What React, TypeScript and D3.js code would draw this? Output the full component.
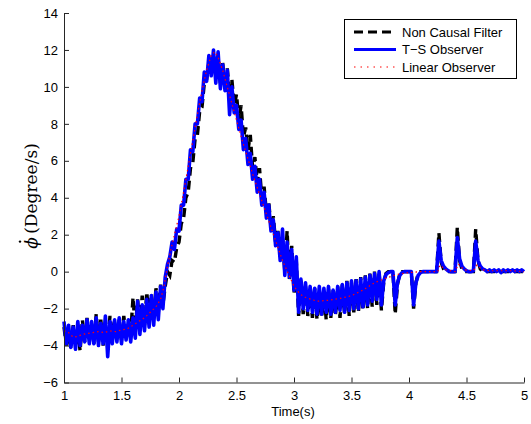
import React, { useRef, useEffect } from 'react';
import * as d3 from 'd3';

// sampled every 0.02 s from t = 1 to t = 5
const sampleStart = 1;
const sampleStep = 0.02;

const nonCausalFilter = [
  -3.0, -4.0, -3.2, -4.2, -2.9, -4.0, -3.1, -4.3, -2.6, -3.8,
  -2.5, -3.7, -2.8, -3.9, -2.3, -3.8, -2.6, -4.0, -2.9, -3.8,
  -2.4, -3.7, -2.7, -3.6, -2.6, -3.7, -2.4, -3.5, -2.6, -3.4,
  -1.4, -3.1, -1.5, -3.0, -1.3, -2.9, -1.1, -2.7, -1.2, -2.4,
  -0.9, -2.2, -0.7, -1.8, -0.8, 0.0, -0.2, 0.6, 0.5, 1.3,
  1.6, 2.6, 2.9, 4.0, 4.3, 5.6, 5.9, 7.2, 7.4, 8.7,
  8.9, 10.2, 10.4, 11.3, 11.0, 11.8, 10.6, 11.6, 10.2, 11.3,
  10.0, 11.0, 9.6, 10.4, 9.0, 9.6, 8.2, 9.0, 7.3, 7.8,
  6.6, 7.4, 5.6, 6.2, 4.8, 5.6, 4.0, 4.6, 3.2, 3.8,
  2.4, 3.0, 1.6, 2.2, 0.8, 1.8, 0.0, 2.2, -0.4, 1.4,
  -1.2, 0.6, -2.4, -0.4, -2.3, -0.8, -2.4, -1.0, -2.5, -0.9,
  -2.6, -1.0, -2.5, -1.1, -2.6, -0.9, -2.5, -1.0, -2.4, -0.8,
  -2.5, -0.7, -2.3, -0.5, -2.4, -0.6, -2.2, -0.4, -2.2, -0.3,
  -2.1, -0.2, -2.0, -0.1, -1.9, 0.0, -1.8, 0.0, -2.1, -0.6,
  -0.1, 0.0, 0.0, 0.0, -2.3, -0.7, -0.1, 0.0, 0.0, 0.0,
  0.0, 0.0, -2.0, -0.6, -0.1, 0.0, 0.0, 0.0, 0.0, 0.0,
  0.0, 0.0, 0.0, 2.1, 0.5, 0.15, 0.0, 0.0, 0.0, 0.0,
  0.0, 2.4, 0.6, 0.15, 0.0, 0.0, 0.0, 0.0, 0.0, 2.3,
  0.6, 0.15, 0.0, 0.0, 0.0, 0.0, 0.0, 0.0, 0.0, 0.0,
  0.0, 0.0, 0.0, 0.0, 0.0, 0.0, 0.0, 0.0, 0.0, 0.0,
  0.0,
];

const tsObserver = [
  -2.7, -3.9, -2.9, -4.1, -3.0, -4.2, -2.7, -4.0, -2.9, -3.8,
  -2.6, -3.9, -2.7, -3.9, -2.5, -4.0, -2.8, -3.9, -2.4, -4.6,
  -2.7, -3.9, -2.6, -3.8, -2.5, -3.9, -2.7, -3.7, -2.6, -3.8,
  -2.5, -3.6, -1.6, -3.4, -1.8, -3.2, -1.5, -3.0, -1.3, -2.9,
  -1.1, -2.6, -0.8, -2.0, -0.3, 0.4, 0.8, 1.6, 1.2, 2.3,
  2.2, 3.6, 3.6, 5.0, 5.0, 6.6, 6.5, 8.0, 8.0, 9.4,
  9.2, 10.8, 10.3, 11.7, 10.6, 12.0, 10.2, 11.9, 9.9, 11.2,
  9.8, 10.9, 8.5, 10.0, 8.6, 9.0, 7.7, 8.2, 6.6, 7.2,
  5.8, 6.4, 5.0, 5.7, 4.3, 5.0, 3.6, 4.3, 2.9, 3.6,
  2.2, 2.8, 1.4, 2.1, 0.6, 2.3, -0.2, 1.6, -0.3, 1.2,
  -1.0, 0.8, -2.2, -0.4, -2.0, -0.6, -2.1, -0.8, -2.2, -0.9,
  -2.3, -0.8, -2.3, -0.9, -2.2, -0.8, -2.3, -1.0, -2.2, -0.8,
  -2.1, -0.7, -2.2, -0.6, -2.1, -0.5, -2.0, -0.5, -2.0, -0.4,
  -1.9, -0.3, -1.8, -0.2, -1.6, -0.1, -1.5, 0.0, -1.8, -0.5,
  -0.15, -0.05, 0.0, 0.0, -1.8, -0.6, -0.2, -0.05, 0.0, 0.0,
  0.0, 0.0, -1.8, -0.6, -0.2, -0.05, 0.0, 0.0, 0.0, 0.0,
  0.0, 0.0, 0.0, 1.65, 0.6, 0.3, 0.15, 0.05, 0.0, 0.0,
  0.0, 1.85, 0.7, 0.3, 0.15, 0.05, 0.0, 0.0, 0.05, 1.65,
  0.6, 0.3, 0.15, 0.1, 0.0, 0.1, 0.0, 0.1, 0.0, 0.1,
  -0.05, 0.1, 0.0, 0.1, 0.0, 0.1, 0.0, 0.1, 0.0, 0.1,
  0.0,
];

// [time, value]
const linearObserver = [
  [1.0, -3.2], [1.04, -3.3], [1.08, -3.55], [1.12, -3.5], [1.16, -3.4], [1.2, -3.35],
  [1.25, -3.3], [1.3, -3.25], [1.35, -3.3], [1.4, -3.2], [1.45, -3.25], [1.5, -3.15],
  [1.55, -3.1], [1.6, -2.9], [1.65, -2.7], [1.7, -2.5], [1.75, -2.2], [1.8, -1.9],
  [1.84, -1.5], [1.87, -0.8], [1.9, 0.3], [1.93, 1.2], [1.96, 2.0], [2.0, 3.0],
  [2.04, 4.3], [2.08, 5.7], [2.12, 7.1], [2.16, 8.5], [2.2, 9.8], [2.24, 10.9],
  [2.28, 11.7], [2.31, 11.9], [2.34, 11.6], [2.38, 10.9], [2.42, 10.0], [2.46, 9.1],
  [2.5, 8.2], [2.55, 7.1], [2.6, 6.1], [2.65, 5.1], [2.7, 4.2], [2.75, 3.3],
  [2.8, 2.4], [2.85, 1.5], [2.9, 0.6], [2.95, -0.1], [3.0, -0.8], [3.05, -1.2],
  [3.1, -1.4], [3.2, -1.6], [3.3, -1.55], [3.4, -1.45], [3.5, -1.3], [3.6, -1.0],
  [3.7, -0.6], [3.8, -0.35], [3.9, -0.15], [4.0, -0.05], [4.1, 0.0], [4.2, 0.0],
  [4.25, 0.0], [4.27, 0.35], [4.32, 0.1], [4.4, 0.0], [4.43, 0.4], [4.48, 0.1],
  [4.56, 0.05], [4.59, 0.35], [4.64, 0.1], [4.7, 0.05], [4.8, 0.05], [4.9, 0.05],
  [5.0, 0.0],
];

const xTicks = [1, 1.5, 2, 2.5, 3, 3.5, 4, 4.5, 5];
const yTicks = [-6, -4, -2, 0, 2, 4, 6, 8, 10, 12, 14];
const legendLabels = ['Non Causal Filter', 'T\u2212S Observer', 'Linear Observer'];

function App() {
  const ref = useRef(null);

  useEffect(() => {
    const width = 531;
    const height = 424;
    const sans = "'Liberation Sans', Arial, Helvetica, sans-serif";

    const root = d3.select(ref.current);
    root.selectAll('*').remove();

    const svg = root
      .append('svg')
      .attr('width', width)
      .attr('height', height)
      .style('position', 'absolute')
      .style('left', 0)
      .style('top', 0)
      .style('background', '#fff');

    const x = d3.scaleLinear().domain([1, 5]).range([64, 524]);
    const y = d3.scaleLinear().domain([-6, 14]).range([382.5, 13]);

    const toPoints = (vals) => vals.map((v, i) => [sampleStart + i * sampleStep, v]);

    const line = d3
      .line()
      .x((d) => x(d[0]))
      .y((d) => y(d[1]));

    // non causal filter (black dashed)
    svg
      .append('path')
      .attr('d', line(toPoints(nonCausalFilter)))
      .attr('fill', 'none')
      .attr('stroke', '#000')
      .attr('stroke-width', 3.4)
      .attr('stroke-dasharray', '9,5');

    // T-S observer (blue)
    svg
      .append('path')
      .attr('d', line(toPoints(tsObserver)))
      .attr('fill', 'none')
      .attr('stroke', '#0000ff')
      .attr('stroke-width', 3.6)
      .attr('stroke-linejoin', 'round');

    // linear observer (red dotted)
    svg
      .append('path')
      .attr('d', line(linearObserver))
      .attr('fill', 'none')
      .attr('stroke', '#ff0000')
      .attr('stroke-width', 1.2)
      .attr('stroke-dasharray', '1.5,3');

    // axes, ticks inward like matlab
    const gx = svg
      .append('g')
      .attr('transform', 'translate(0,' + y(-6) + ')')
      .call(
        d3.axisBottom(x)
          .tickValues(xTicks)
          .tickFormat(d3.format(''))
          .tickSizeInner(-5)
          .tickSizeOuter(0)
          .tickPadding(8)
      );

    const gy = svg
      .append('g')
      .attr('transform', 'translate(' + x(1) + ',0)')
      .call(
        d3.axisLeft(y)
          .tickValues(yTicks)
          .tickFormat(d3.format(''))
          .tickSizeInner(-5)
          .tickSizeOuter(0)
          .tickPadding(6)
      );

    [gx, gy].forEach((g) => {
      g.attr('font-family', sans).attr('font-size', 13);
      g.selectAll('path, line').attr('stroke', '#262626');
      g.selectAll('text').attr('fill', '#000');
    });

    svg
      .append('text')
      .attr('x', 293)
      .attr('y', 416)
      .attr('text-anchor', 'middle')
      .attr('font-family', sans)
      .attr('font-size', 13)
      .text('Time(s)');

    // y label: dotted phi, rotated
    const ylabG = svg.append('g').attr('transform', 'translate(37,196) rotate(-90)');
    const ylab = ylabG
      .append('text')
      .attr('text-anchor', 'middle')
      .attr('font-family', "'DejaVu Serif', 'Liberation Serif', serif")
      .attr('font-size', 17);
    ylab.append('tspan').attr('font-style', 'italic').text('\u03D5');
    ylab.append('tspan').text('\u2009(Degree/s)');
    const phiBox = ylab.node().getExtentOfChar(0);
    ylabG
      .append('circle')
      .attr('cx', phiBox.x + phiBox.width * 0.62)
      .attr('cy', -17)
      .attr('r', 1.2)
      .attr('fill', '#000');

    // legend
    const legend = svg.append('g');
    legend
      .append('rect')
      .attr('x', 344.5)
      .attr('y', 19.5)
      .attr('width', 172)
      .attr('height', 59)
      .attr('fill', '#fff')
      .attr('stroke', '#000');

    const legendStyles = [
      { stroke: '#000', width: 3, dash: '9,5' },
      { stroke: '#0000ff', width: 2.8, dash: null },
      { stroke: '#ff0000', width: 1.2, dash: '1.5,5' },
    ];
    const rowY = [32, 49.5, 67];

    legendLabels.forEach((label, i) => {
      legend
        .append('line')
        .attr('x1', 354)
        .attr('x2', 396)
        .attr('y1', rowY[i])
        .attr('y2', rowY[i])
        .attr('stroke', legendStyles[i].stroke)
        .attr('stroke-width', legendStyles[i].width)
        .attr('stroke-dasharray', legendStyles[i].dash);
      legend
        .append('text')
        .attr('x', 402)
        .attr('y', rowY[i] + 4.5)
        .attr('font-family', sans)
        .attr('font-size', 13)
        .text(label);
    });
  }, []);

  return <div className="chart-container" ref={ref} />;
}

export default App;
